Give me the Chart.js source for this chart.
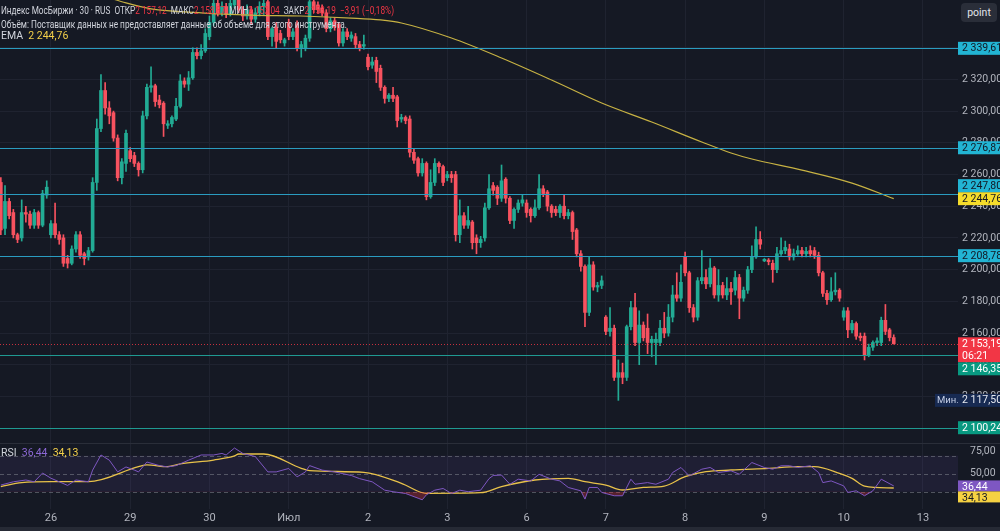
<!DOCTYPE html>
<html lang="ru">
<head>
<meta charset="UTF-8">
<title>Индекс МосБиржи · 30</title>
<script src="https://cdn.jsdelivr.net/npm/chart.js"></script>
<style>
  html, body { margin: 0; padding: 0; background: #151924; overflow: hidden; }
  #wrap { position: relative; width: 1000px; height: 531px; }
  #main, #rsi { position: absolute; left: 0; display: block; }
  #main { top: 0; }
  #rsi { top: 443px; }
  .txt { position: absolute; left: 1px; font-family: Roboto, "Noto Sans", sans-serif; font-size: 10.5px; line-height: 12px;
         color: #d1d4dc; white-space: nowrap; transform-origin: 0 0; pointer-events: none; }
  .red { color: #f23645; }
  .yel { color: #f2cf4a; }
  .pur { color: #8c68d6; }
  #point { position: absolute; left: 961px; top: 3px; width: 36px; height: 19px; background: #2a2e39; border-radius: 4px;
           color: #e0e3eb; font: 10.5px Roboto, sans-serif; line-height: 19px; text-align: center; }
  #strip { position: absolute; left: 0; top: 527px; width: 1000px; height: 4px; background: #262a35; }
</style>
</head>
<body>
<div id="wrap">
  <canvas id="main" width="1000" height="443"></canvas>
  <canvas id="rsi" width="1000" height="88"></canvas>
  <div class="txt" id="l1" data-w="393" style="top:5px;"></div>
  <div class="txt" id="l2" data-w="346" style="top:19px;">Объём: Поставщик данных не предоставляет данные об объеме для этого инструмента.</div>
  <div class="txt" id="l3" style="top:30px;"></div>
  <div class="txt" id="l4" style="top:447px;"></div>
  <div id="point">point</div>
  <div id="strip"></div>
</div>

<script>
// 30-min candles, 25 Jun .. 10 Jul (19 bars per session)
const open = [
  2255,2226,2243,2236,2222,2220,2236,2235,2228,2236,2228,2247,
  2222,2229,2222,2220,2207,2204,2213,2222,2210,2208,2212,2255,2289,2313,2302,2299,2283,2258,2267,
  2275,2272,2267,2263,2297,2315,2316,2307,2305,2291,2292,2295,2303,2319,2317,2321,2337,2335,2338,
  2347,2356,2368,2362,2366,2361,2367,2370,2364,2360,2364,2358,2362,2366,2369,2347,2353,2349,2343,
  2356,2347,2355,2340,2340,2346,2369,2367,2365,2362,2352,2357,2355,2343,2350,2346,2347,2342,2341,
  2334,2329,2332,2327,2315,2308,2310,2309,2295,2296,2295,2274,2270,2261,2267,2246,2255,2267,2265,
  2258,2260,2260,2222,2234,2228,2230,2220,2217,2220,2239,2253,2252,2245,2257,2245,2231,2238,2242,
  2242,2238,2234,2239,2251,2249,2240,2238,2236,2240,2234,2236,2225,2210,2202,2173,2203,2189,2190,
  2170,2161,2163,2132,2135,2132,2164,2176,2154,2165,2163,2154,2154,2154,2163,2160,2170,2184,2182,
  2208,2198,2176,2170,2193,2195,2191,2201,2184,2190,2184,2188,2187,2195,2182,2187,2200,2208,2219,
  2205.5,2206,2204,2200,2210,2212,2213,2208,2210,2212,2210,2212,2212,2209,2198,2185,2181,2186,2187,
  2170,2174,2162,2166,2158,2158,2146,2151,2154,2154,2168,2162,2157.12
];
const high = [
  2258,2253,2245,2238,2223,2244,2240,2237,2238,2237,2250,2256,
  2231,2242,2224,2222,2209,2215,2224,2224,2211,2214,2258,2295,2323,2318,2306,2300,2285,2270,2288,
  2277,2274,2268,2300,2317,2328,2317,2310,2306,2294,2297,2308,2323,2321,2325,2340,2340,2342,2352,
  2360,2372,2372,2369,2368,2372,2373,2372,2366,2367,2366,2365,2369,2372,2371,2353,2356,2351,2346,
  2358,2352,2357,2344,2348,2372,2372,2369,2367,2364,2359,2359,2356,2352,2352,2350,2349,2344,2348,
  2336,2334,2334,2329,2316,2311,2315,2310,2298,2297,2297,2276,2271,2270,2268,2263,2270,2268,2266,
  2262,2262,2262,2244,2236,2240,2231,2222,2221,2242,2260,2255,2253,2266,2258,2246,2239,2244,2247,
  2244,2239,2244,2260,2253,2250,2241,2240,2241,2247,2238,2237,2226,2212,2203,2208,2205,2192,2196,
  2171,2176,2165,2143,2141,2165,2180,2185,2174,2167,2172,2158,2160,2168,2173,2178,2190,2198,2203,
  2211,2199,2178,2195,2212,2200,2207,2202,2200,2192,2195,2192,2199,2197,2189,2202,2215,2227,2224,
  2207,2207,2206,2214,2220,2218,2216,2213,2215,2214,2214,2215,2214,2211,2199,2187,2195,2198,2188,
  2176,2176,2168,2167,2160,2160,2153,2155,2157,2170,2178,2163,2158.87
];
const low = [
  2222,2222,2232,2220,2217,2218,2230,2226,2226,2226,2227,2245,
  2220,2220,2216,2202,2201,2203,2211,2207,2203,2206,2211,2250,2287,2298,2292,2281,2256,2254,2262,
  2268,2265,2259,2261,2295,2312,2303,2302,2284,2289,2290,2294,2302,2315,2313,2320,2333,2333,2337,
  2345,2354,2360,2360,2359,2360,2365,2362,2357,2358,2355,2356,2360,2361,2345,2341,2340,2343,2341,
  2345,2345,2338,2334,2338,2344,2362,2362,2360,2350,2350,2351,2341,2341,2345,2344,2340,2338,2339,
  2326,2327,2318,2313,2305,2306,2306,2290,2293,2292,2271,2267,2259,2259,2244,2245,2253,2261,2253,
  2256,2255,2218,2217,2226,2226,2213,2210,2214,2218,2238,2247,2241,2243,2242,2229,2226,2236,2240,
  2233,2230,2233,2238,2246,2237,2233,2234,2233,2232,2232,2219,2208,2199,2164,2171,2187,2186,2188,
  2159,2158,2130,2117.5,2128,2130,2162,2152,2140,2155,2147,2145,2140,2152,2157,2158,2167,2180,2180,
  2196,2173,2167,2168,2191,2188,2189,2182,2180,2182,2181,2178,2184,2169,2180,2185,2198,2207,2213,
  2205,2203,2192,2198,2209,2210,2206,2206,2209,2208,2208,2208,2207,2196,2183,2178,2180,2184,2180,
  2168,2157,2160,2156,2155,2143,2145,2149,2152,2152,2159,2155,2153.04
];
const close = [
  2225,2243,2234,2222,2219,2236,2235,2228,2236,2228,2248,2252,
  2229,2222,2219,2204,2204,2213,2222,2209,2207,2212,2255,2289,2313,2302,2297,2283,2258,2268,2286,
  2270,2267,2263,2297,2315,2316,2306,2304,2292,2292,2296,2303,2319,2317,2321,2337,2335,2338,2349,
  2356,2368,2362,2366,2361,2368,2370,2364,2360,2364,2358,2362,2366,2368,2347,2352,2344,2345,2345,
  2347,2350,2340,2342,2346,2369,2364,2364,2362,2352,2357,2353,2343,2350,2347,2348,2342,2340,2342,
  2328,2331,2325,2315,2308,2310,2308,2294,2296,2294,2274,2269,2261,2267,2246,2255,2267,2265,2255,
  2260,2258,2222,2234,2228,2231,2217,2217,2219,2239,2251,2250,2245,2256,2245,2231,2238,2242,2244,
  2236,2234,2239,2251,2248,2240,2236,2236,2240,2234,2236,2224,2210,2202,2173,2203,2189,2190,2193,
  2161,2163,2132,2135,2132,2164,2176,2154,2165,2157,2154,2156,2156,2163,2160,2170,2184,2182,2192,
  2198,2176,2170,2193,2195,2191,2201,2184,2190,2184,2188,2186,2195,2182,2187,2200,2208,2219,2216,
  2206.5,2205,2200,2210,2212,2214,2208,2210,2212,2210,2211.5,2210,2209,2198,2185,2181,2186,2187,2182,
  2174,2162,2166,2158,2157,2146,2151,2154,2155,2168,2161,2157.1,2153.19
];

// EMA (bar index -> value)
const emaIdx = [0, 12, 20, 26, 29, 36, 48, 60, 72, 84, 91, 96, 108, 120, 132, 144, 156, 168, 175, 180, 192, 204, 214];
const emaVal = [2386, 2378, 2374, 2371.4, 2369, 2364.5, 2362, 2360.6, 2360, 2358.7, 2357.5, 2355.6, 2346.1, 2333.5,
                2319.6, 2305.1, 2293.1, 2280.5, 2273.6, 2269.8, 2262.8, 2254.6, 2244.76];

// RSI and its moving average
const rsiIdx = [0,3,6,8,10,12,14,16,18,21,22,24,26,28,30,32,33,35,38,40,42,45,48,51,53,54,56,58,61,64,66,69,71,73,74,77,80,84,86,89,
                92,94,97,100,101,102,104,106,108,110,112,115,117,118,120,122,124,127,129,132,134,136,139,140,141,143,144,147,149,151,
                152,155,157,160,161,163,165,168,170,172,175,177,180,183,185,187,189,191,194,196,197,199,202,203,205,207,209,211,214];
const rsiVal = [37.4,41,43,41,50.7,45,41,37,43,41,54,70.8,65,52,57.5,54,52,63,59,57.5,59,65,70.8,70.8,72.5,70.8,78.5,72.5,69,52,52,55.8,46.5,52,59,54,52,48,44.5,41,
                31.7,30,28,22.8,21,26.6,31.7,33.6,28,31.7,30,31.7,44.5,48,48.5,38.3,43.9,42,49.3,43.9,42,34.7,31,21.8,34.7,34.7,29.2,25.5,25.5,43.9,
                38.3,40.1,38.3,43.9,51.3,56.9,47.6,55,56.9,51.3,53.2,49.5,62.4,56.9,55,58.8,58.8,56.9,58.8,51.3,40.1,42,36.5,29.2,31,25.5,31,43.9,36.44];
const maIdx = [0,5,12,21,33,35,40,43,51,56,57,63,72,74,87,96,102,115,120,128,136,140,145,149,154,159,164,169,175,184,191,195,201,204,207,214];
const maVal = [35.6,40,41.1,41.1,57.8,59.7,57.8,60.8,65.2,69.7,71.9,71.9,56,53.4,51.5,39.3,28.2,28.9,35.6,43,44.9,41.1,37.4,31.9,34.8,36.3,
               46.7,52.2,54.1,56,57.8,57.8,50.4,44.9,36.3,34.13];

// drawn horizontal levels
const cyanLevels = [2339.61, 2276.87, 2247.80, 2208.78];
const greenLevels = [2146.35, 2100.24];

// time axis
const dayIdx = [12, 31, 50, 69, 88, 107, 126, 145, 164, 183, 202, 221];
const dayLbl = ['26', '29', '30', 'Июл', '2', '3', '6', '7', '8', '9', '10', '13'];
const priceTicks = [2100, 2120, 2140, 2160, 2180, 2200, 2220, 2240, 2260, 2280, 2300, 2320, 2340];
const rsiTicks = [50, 75];
const rsiBands = [70, 50, 30];

const xMin = -0.2, xMax = 229.4;
const upCol = '#22ab94', dnCol = '#f7525f';
const gridCol = '#1f2330';
const family = 'Roboto, "Noto Sans", sans-serif';
Chart.defaults.font.family = family;

const idx = close.map((_, i) => i);
const last = close.length - 1;
const candleCol = idx.map(i => close[i] >= open[i] ? upCol : dnCol);

function fmt(v) {
  const p = v.toFixed(2).split('.');
  return p[0].replace(/\B(?=(\d{3})+(?!\d))/g, ' ') + ',' + p[1];
}

// legend texts
const chg = close[last] - close[last - 1];
const sign = chg < 0 ? '−' : '+';
document.getElementById('l1').innerHTML =
  'Индекс МосБиржи · 30 · RUS&nbsp;&nbsp;ОТКР<span class="red">' + fmt(open[last]) + '</span>&nbsp;&nbsp;МАКС<span class="red">' +
  fmt(high[last]) + '</span>&nbsp;&nbsp;МИН<span class="red">' + fmt(low[last]) + '</span>&nbsp;&nbsp;ЗАКР<span class="red">' +
  fmt(close[last]) + '</span>&nbsp;&nbsp;<span class="red">' + sign + fmt(Math.abs(chg)) + ' (' + sign +
  fmt(Math.abs(chg / close[last - 1] * 100)) + '%)</span>';
document.getElementById('l3').innerHTML = 'EMA&nbsp;&nbsp;<span class="yel">' + fmt(emaVal[emaVal.length - 1]) + '</span>';
document.getElementById('l4').innerHTML = 'RSI&nbsp;&nbsp;<span class="pur">' + fmt(rsiVal[rsiVal.length - 1]) +
  '</span>&nbsp;&nbsp;<span class="yel">' + fmt(maVal[maVal.length - 1]) + '</span>';
document.querySelectorAll('[data-w]').forEach(el => {
  const w = el.getBoundingClientRect().width;
  el.style.transform = 'scaleX(' + (el.dataset.w / w) + ')';
});

// price tags on the right scale, pushed apart when they overlap
function placeTags(tags, scale) {
  const placed = [];
  tags.forEach(t => {
    const c = scale.getPixelForValue(t.v);
    let top = c - 6.5;
    for (let n = 0; n < 10; n++) {
      const hit = placed.find(p => top < p.top + p.h && top + t.h > p.top);
      if (!hit) break;
      top = c < hit.top + hit.h / 2 ? hit.top - t.h : hit.top + hit.h;
    }
    t.top = top;
    placed.push(t);
  });
  return placed;
}

function drawTags(ctx, area, tags) {
  ctx.save();
  ctx.font = '10.5px ' + family;
  ctx.textBaseline = 'middle';
  tags.forEach(t => {
    ctx.fillStyle = t.bg;
    ctx.fillRect(area.right, t.top, 60, t.h);
    ctx.fillStyle = t.fg;
    ctx.fillText(fmt(t.v), area.right + 4, t.top + 7);
    if (t.sub) ctx.fillText(t.sub, area.right + 4, t.top + 19);
  });
  ctx.restore();
}

const mainPlugin = {
  id: 'levels',
  afterDatasetsDraw(chart) {
    const {ctx, chartArea: a, scales: {y}} = chart;
    ctx.save();
    ctx.lineWidth = 1;
    cyanLevels.forEach(v => {
      const py = Math.round(y.getPixelForValue(v)) + 0.5;
      ctx.strokeStyle = '#2a9cc0';
      ctx.beginPath(); ctx.moveTo(a.left, py); ctx.lineTo(a.right, py); ctx.stroke();
    });
    greenLevels.forEach(v => {
      const py = Math.round(y.getPixelForValue(v)) + 0.5;
      ctx.strokeStyle = '#1f9a92';
      ctx.beginPath(); ctx.moveTo(a.left, py); ctx.lineTo(a.right, py); ctx.stroke();
    });
    // last price dotted line
    const py = Math.round(y.getPixelForValue(close[last])) + 0.5;
    ctx.strokeStyle = 'rgba(242,54,69,0.8)';
    ctx.setLineDash([1, 2]);
    ctx.beginPath(); ctx.moveTo(a.left, py); ctx.lineTo(a.right, py); ctx.stroke();
    ctx.restore();
  },
  afterDraw(chart) {
    const {ctx, chartArea: a, scales: {y}} = chart;
    const tags = [
      {v: close[last], h: 25, bg: '#f23645', fg: '#ffffff', sub: '06:21'},
      {v: emaVal[emaVal.length - 1], h: 13, bg: '#f5dc2b', fg: '#131722'}
    ];
    cyanLevels.forEach(v => tags.push({v, h: 13, bg: '#22b4d3', fg: '#131722'}));
    greenLevels.forEach(v => tags.push({v, h: 13, bg: '#089981', fg: '#ffffff'}));
    drawTags(ctx, a, placeTags(tags, y));
    // session minimum
    const mn = Math.min(...low);
    const my = y.getPixelForValue(mn);
    ctx.save();
    ctx.fillStyle = '#172a52';
    ctx.fillRect(a.right - 23, my - 6.5, 70, 13);
    ctx.font = '9.5px ' + family;
    ctx.textBaseline = 'middle';
    ctx.fillStyle = '#c5cfe6';
    ctx.fillText('Мин.', a.right - 21, my + 0.5);
    ctx.font = '10.5px ' + family;
    ctx.fillStyle = '#e6e9f0';
    ctx.fillText(fmt(mn), a.right + 4, my + 0.5);
    ctx.restore();
  }
};

const rsiPlugin = {
  id: 'rsiBands',
  beforeDatasetsDraw(chart) {
    const {ctx, chartArea: a, scales: {y}} = chart;
    const t = y.getPixelForValue(rsiBands[0]), b = y.getPixelForValue(rsiBands[2]);
    ctx.save();
    ctx.fillStyle = 'rgba(126,87,194,0.1)';
    ctx.fillRect(a.left, t, a.right - a.left, b - t);
    ctx.strokeStyle = 'rgba(120,123,134,0.6)';
    ctx.lineWidth = 1;
    ctx.setLineDash([4, 3]);
    rsiBands.forEach(v => {
      const py = Math.round(y.getPixelForValue(v)) + 0.5;
      ctx.beginPath(); ctx.moveTo(a.left, py); ctx.lineTo(a.right, py); ctx.stroke();
    });
    ctx.setLineDash([]);
    ctx.strokeStyle = '#2a2e39';
    ctx.beginPath(); ctx.moveTo(0, 0.5); ctx.lineTo(chart.width, 0.5); ctx.stroke();
    ctx.restore();
  },
  afterDraw(chart) {
    const {ctx, chartArea: a, scales: {y}} = chart;
    const tags = [
      {v: rsiVal[rsiVal.length - 1], h: 11, bg: '#7e57c2', fg: '#ffffff'},
      {v: maVal[maVal.length - 1], h: 11, bg: '#f5d142', fg: '#131722'}
    ];
    drawTags(ctx, a, placeTags(tags, y).map(t => Object.assign(t, {top: t.top + 1})));
  }
};

const xTicks = s => { s.ticks = dayIdx.map(v => ({value: v})); };
// fixed axis sizes, no extra label padding
const noPad = s => { s.paddingLeft = 0; s.paddingRight = 0; s.paddingTop = 0; s.paddingBottom = 0; };
const fitH = h => s => { s.height = h; noPad(s); };
const fitW = w => s => { s.width = w; noPad(s); };

new Chart(document.getElementById('main'), {
  type: 'bar',
  data: {
    datasets: [
      {
        type: 'line', data: emaIdx.map((x, k) => ({x, y: emaVal[k]})),
        borderColor: '#c7b243', borderWidth: 1.2, pointRadius: 0, cubicInterpolationMode: 'monotone'
      },
      {
        data: idx.map(i => ({x: i, y: [open[i], close[i]]})),
        backgroundColor: candleCol, barThickness: 3, minBarLength: 1, grouped: false
      },
      {
        data: idx.map(i => ({x: i, y: [low[i], high[i]]})),
        backgroundColor: candleCol, barThickness: 1, grouped: false
      }
    ]
  },
  options: {
    responsive: false, animation: false, devicePixelRatio: 1,
    layout: {padding: 0},
    plugins: {legend: {display: false}, tooltip: {enabled: false}},
    scales: {
      x: {
        type: 'linear', min: xMin, max: xMax, offset: false, afterBuildTicks: xTicks,
        ticks: {display: false}, grid: {color: gridCol, drawTicks: false, offset: false}, border: {display: false},
        afterFit: fitH(0)
      },
      y: {
        position: 'right', min: 2090.6, max: 2370.1,
        afterBuildTicks: s => { s.ticks = priceTicks.map(v => ({value: v})); },
        ticks: {color: '#b2b5be', font: {size: 10.5}, padding: 4, callback: v => fmt(v)},
        grid: {color: gridCol, drawTicks: false}, border: {display: false},
        afterFit: fitW(42)
      }
    }
  },
  plugins: [mainPlugin]
});

new Chart(document.getElementById('rsi'), {
  type: 'line',
  data: {
    datasets: [
      {
        data: rsiIdx.map((x, k) => ({x, y: rsiVal[k]})),
        borderColor: '#7e57c2', borderWidth: 1, pointRadius: 0,
        fill: {target: {value: 30}, above: 'rgba(0,0,0,0)', below: 'rgba(242,54,69,0.3)'}
      },
      {
        data: maIdx.map((x, k) => ({x, y: maVal[k]})),
        borderColor: '#e8c24a', borderWidth: 1.3, pointRadius: 0, cubicInterpolationMode: 'monotone'
      }
    ]
  },
  options: {
    responsive: false, animation: false, devicePixelRatio: 1,
    layout: {padding: 0},
    plugins: {legend: {display: false}, tooltip: {enabled: false}},
    scales: {
      x: {
        type: 'linear', min: xMin, max: xMax, afterBuildTicks: xTicks,
        ticks: {color: '#b2b5be', font: {size: 11}, padding: 3, maxRotation: 0, autoSkip: false,
                callback: v => dayLbl[dayIdx.indexOf(v)]},
        grid: {color: gridCol, drawTicks: false}, border: {display: false},
        afterFit: fitH(22)
      },
      y: {
        position: 'right', min: 10.8, max: 84.1,
        afterBuildTicks: s => { s.ticks = rsiTicks.map(v => ({value: v})); },
        ticks: {color: '#b2b5be', font: {size: 10.5}, padding: 4, callback: v => fmt(v)},
        grid: {display: false}, border: {display: false},
        afterFit: fitW(42)
      }
    }
  },
  plugins: [rsiPlugin]
});
</script>
</body>
</html>
